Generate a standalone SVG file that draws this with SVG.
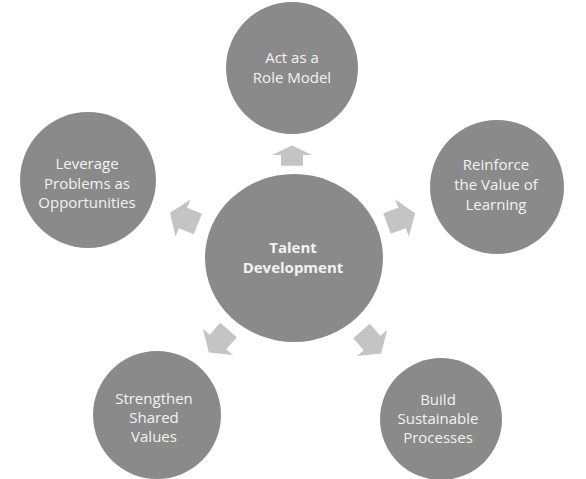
<svg xmlns="http://www.w3.org/2000/svg" width="586" height="479" viewBox="0 0 586 479">
<style>
.c{fill:#8a8a8a}
.a{fill:#c4c4c4}
text{font-family:"Open Sans","Liberation Sans",sans-serif;font-size:15px;fill:#f2f2f2;text-anchor:middle}
.b{font-weight:bold}
</style>
<defs>
<path id="arr" d="M-16,-11 L0,-11 L0,-20 L14,0 L0,20 L0,11 L-16,11 Z"/>
</defs>
<rect width="586" height="479" fill="#ffffff"/>
<g id="connectors">
<use href="#arr" class="a" transform="translate(292,155) rotate(-90) scale(0.67,1)"/>
<use href="#arr" class="a" transform="translate(183,218) rotate(202)"/>
<use href="#arr" class="a" transform="translate(402,218) rotate(-20)"/>
<use href="#arr" class="a" transform="translate(218,342) rotate(131)"/>
<use href="#arr" class="a" transform="translate(372,343) rotate(49)"/>
</g>
<g id="center">
<ellipse class="c" cx="294" cy="258" rx="89" ry="84"/>
<text class="b" x="293" y="253">Talent</text>
<text class="b" x="293" y="273">Development</text>
</g>
<g id="top">
<circle class="c" cx="292" cy="68" r="66"/>
<text x="292" y="63">Act as a</text>
<text x="292" y="83">Role Model</text>
</g>
<g id="left">
<circle class="c" cx="88" cy="180" r="68"/>
<text x="87" y="169">Leverage</text>
<text x="87" y="189">Problems as</text>
<text x="87" y="208">Opportunities</text>
</g>
<g id="right">
<circle class="c" cx="497" cy="187" r="67"/>
<text x="496" y="170">Reinforce</text>
<text x="496" y="190">the Value of</text>
<text x="496" y="210">Learning</text>
</g>
<g id="bottomleft">
<circle class="c" cx="157" cy="415" r="64"/>
<text x="154" y="404">Strengthen</text>
<text x="154" y="423">Shared</text>
<text x="154" y="442">Values</text>
</g>
<g id="bottomright">
<circle class="c" cx="441" cy="419" r="61"/>
<text x="438" y="405">Build</text>
<text x="438" y="424">Sustainable</text>
<text x="438" y="443">Processes</text>
</g>
</svg>
